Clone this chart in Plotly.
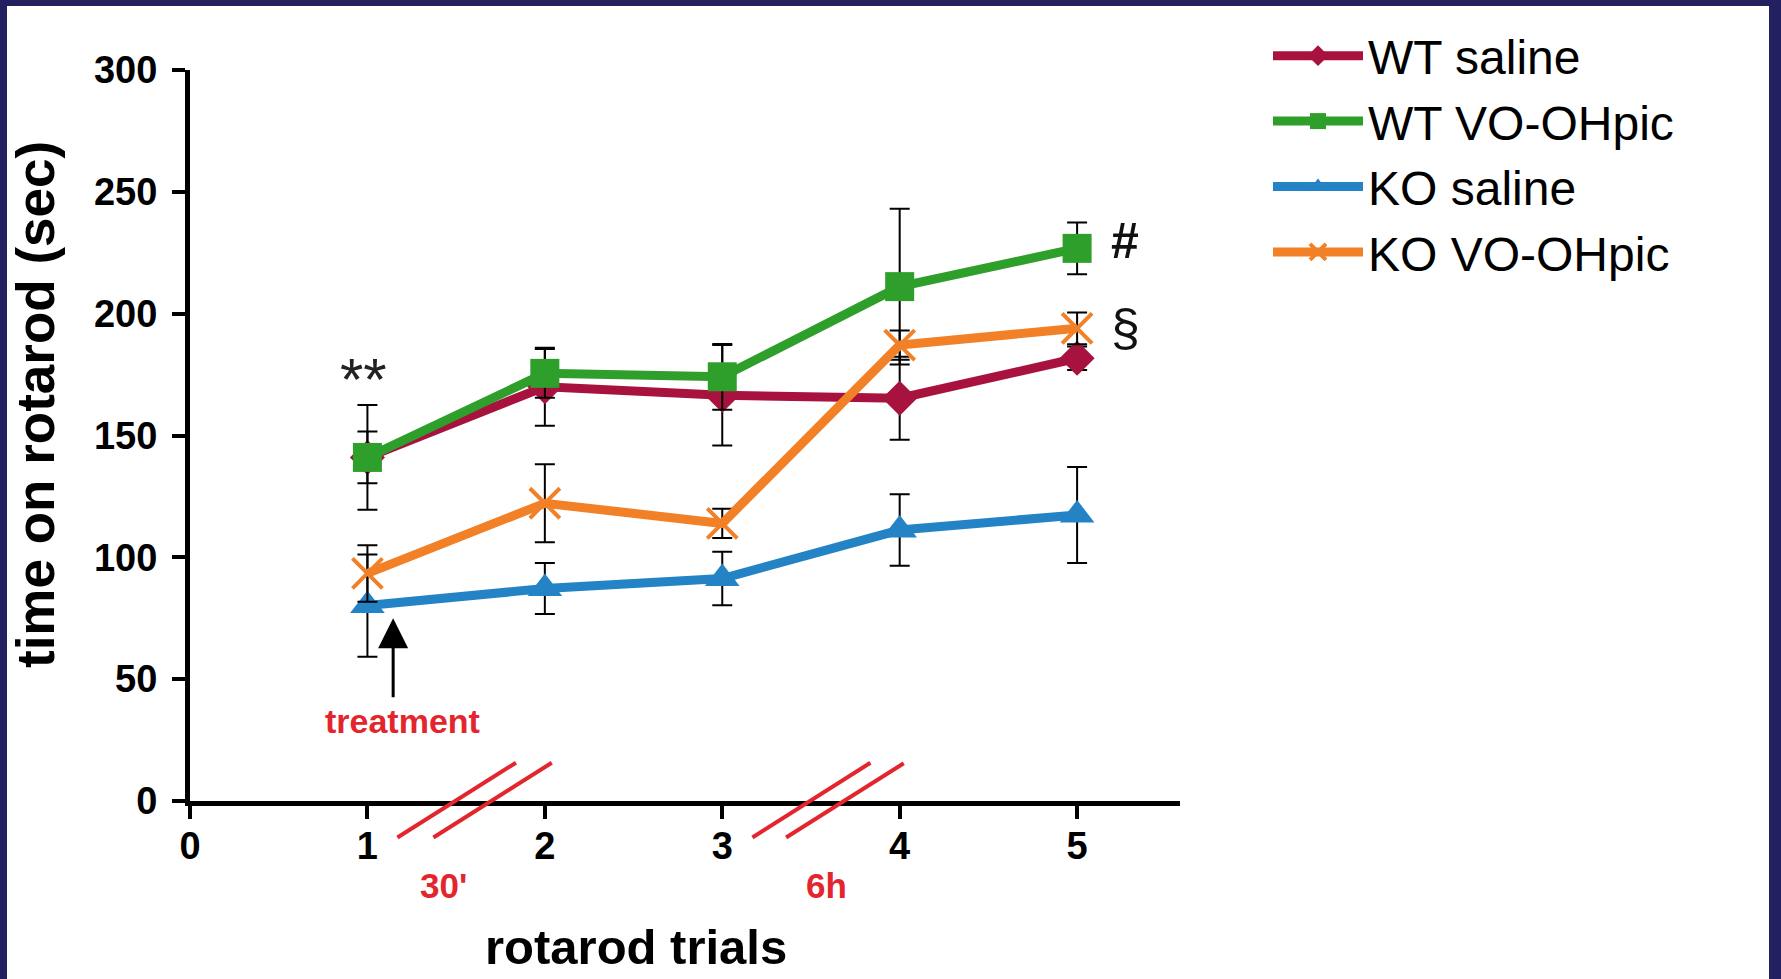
import plotly.graph_objects as go

# ---------------- data ----------------
trials = [1, 2, 3, 4, 5]
series_names = ["WT saline", "WT VO-OHpic", "KO saline", "KO VO-OHpic"]
wt_saline = [141.0, 170.0, 166.5, 165.3, 181.7]
wt_saline_err = [10.6, 16.0, 20.6, 17.0, 4.8]
wt_vo = [141.0, 175.5, 174.1, 211.1, 226.8]
wt_vo_err = [21.5, 10.0, 13.5, 32.0, 10.6]
ko_saline = [80.2, 87.2, 91.3, 111.2, 117.4]
ko_saline_err = [21.0, 10.5, 11.0, 14.7, 19.7]
ko_vo = [93.4, 122.2, 113.9, 187.1, 194.0]
ko_vo_err = [11.6, 16.0, 6.0, 6.0, 6.5]
x_ticks = [0, 1, 2, 3, 4, 5]
y_ticks = [0, 50, 100, 150, 200, 250, 300]

# ---------------- style ----------------
W, H = 1781, 979
PL, PR, PT, PB = 190, 1180, 70, 801  # plot area in px
XMAX, YMAX = 5.58, 300
NAVY = "#232060"
RED_TXT = "#e3262d"
FONT = "Liberation Sans, Arial, sans-serif"

colors = ["#a8123e", "#2e9f2a", "#2383c4", "#f28026"]
symbols = ["diamond", "square", "triangle-up", "x-thin"]
sizes = [27, 29, 30, 30]
values = [wt_saline, wt_vo, ko_saline, ko_vo]
errors = [wt_saline_err, wt_vo_err, ko_saline_err, ko_vo_err]


def px_x(p):
    return (p - PL) / (PR - PL)


def px_y(p):
    return (PB - p) / (PB - PT)


fig = go.Figure()
for name, col, sym, sz, v, e in zip(series_names, colors, symbols, sizes, values, errors):
    marker = dict(symbol=sym, size=sz, color=col)
    if sym == "x-thin":
        marker["line"] = dict(color=col, width=4)
    fig.add_trace(go.Scatter(
        x=trials, y=v, name=name, mode="lines+markers",
        line=dict(color=col, width=9),
        marker=marker,
        error_y=dict(type="data", array=e, visible=True, color="black",
                     thickness=2, width=10),
        cliponaxis=False,
    ))

shapes = []
# navy frame (left, top, right)
shapes.append(dict(type="rect", xref="paper", yref="paper",
                   x0=px_x(0), x1=px_x(7), y0=px_y(H), y1=px_y(0),
                   fillcolor=NAVY, line=dict(width=0), layer="below"))
shapes.append(dict(type="rect", xref="paper", yref="paper",
                   x0=px_x(0), x1=px_x(W), y0=px_y(6), y1=px_y(0),
                   fillcolor=NAVY, line=dict(width=0), layer="below"))
shapes.append(dict(type="rect", xref="paper", yref="paper",
                   x0=px_x(1769), x1=px_x(W), y0=px_y(H), y1=px_y(0),
                   fillcolor=NAVY, line=dict(width=0), layer="below"))

# axis break marks (in axis units, converted to paper fractions)
breaks = [
    (1.169, -15.0, 1.837, 15.7),
    (1.372, -15.0, 2.039, 15.7),
    (3.170, -15.0, 3.835, 15.7),
    (3.360, -15.0, 4.023, 15.5),
]
for x0, y0, x1, y1 in breaks:
    shapes.append(dict(type="line", xref="paper", yref="paper",
                       x0=x0 / XMAX, y0=y0 / YMAX, x1=x1 / XMAX, y1=y1 / YMAX,
                       line=dict(color=RED_TXT, width=4), layer="above"))

C = dict(xanchor="center", yanchor="middle")
annotations = [
    dict(x=0.98, y=173, xref="x", yref="y", text="**", showarrow=False,
         font=dict(family=FONT, size=60, color="#222"), **C),
    dict(x=5.27, y=230, xref="x", yref="y", text="#", showarrow=False,
         font=dict(family=FONT, size=50, color="#111", weight="bold"), **C),
    dict(x=5.27, y=194, xref="x", yref="y", text="§", showarrow=False,
         font=dict(family=FONT, size=52, color="#111"), **C),
    dict(x=1.145, y=75, ax=1.145, ay=42, xref="x", yref="y", axref="x", ayref="y",
         text="", showarrow=True, arrowhead=2, arrowsize=2.0, arrowwidth=3,
         arrowcolor="black"),
    dict(x=1.196, y=32.8, xref="x", yref="y", text="treatment", showarrow=False,
         font=dict(family=FONT, size=34, color=RED_TXT, weight="bold"), **C),
    dict(x=1.43 / XMAX, y=-34.5 / YMAX, xref="paper", yref="paper", text="30'",
         showarrow=False, font=dict(family=FONT, size=35, color=RED_TXT, weight="bold"), **C),
    dict(x=3.59 / XMAX, y=-34.5 / YMAX, xref="paper", yref="paper", text="6h",
         showarrow=False, font=dict(family=FONT, size=35, color=RED_TXT, weight="bold"), **C),
    dict(x=px_x(636), y=px_y(947), xref="paper", yref="paper", text="rotarod trials",
         showarrow=False, font=dict(family=FONT, size=49, color="black", weight="bold"), **C),
    dict(x=px_x(36), y=px_y(405), xref="paper", yref="paper",
         text="time on rotarod (sec)", textangle=-90, showarrow=False,
         font=dict(family=FONT, size=53, color="black", weight="bold"), **C),
]

fig.update_layout(
    width=W, height=H,
    margin=dict(l=PL, r=W - PR, t=PT, b=H - PB, pad=0),
    paper_bgcolor="white", plot_bgcolor="white",
    font=dict(family=FONT, color="black"),
    shapes=shapes, annotations=annotations,
    showlegend=True,
    legend=dict(x=px_x(1268), y=px_y(18), xanchor="left", yanchor="top",
                font=dict(family=FONT, size=48, color="black"),
                itemwidth=90, bgcolor="rgba(0,0,0,0)", tracegroupgap=0),
    xaxis=dict(range=[0, XMAX], tickvals=x_ticks, ticktext=[str(t) for t in x_ticks],
               showgrid=False, zeroline=False, showline=True, linecolor="black",
               linewidth=5, ticks="outside", ticklen=13, tickwidth=4, tickcolor="black",
               ticklabelstandoff=-6,
               tickfont=dict(family=FONT, size=38, color="black", weight="bold")),
    yaxis=dict(range=[0, YMAX], tickvals=y_ticks, ticktext=[str(t) for t in y_ticks],
               showgrid=False, zeroline=False, showline=True, linecolor="black",
               linewidth=5, ticks="outside", ticklen=13, tickwidth=4, tickcolor="black",
               ticklabelstandoff=7,
               tickfont=dict(family=FONT, size=38, color="black", weight="bold")),
)

fig.write_html("out.html", config={"displayModeBar": False},
               post_script="document.body.style.margin='0';document.body.style.padding='0';")
